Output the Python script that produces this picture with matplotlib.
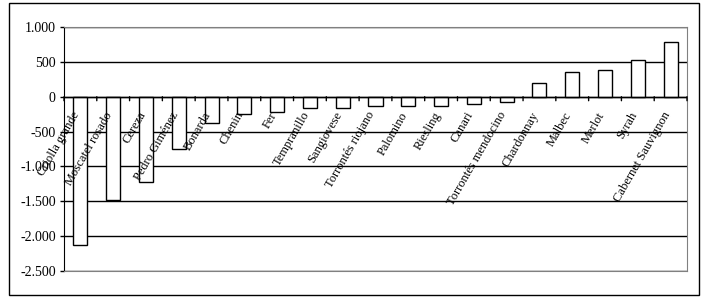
import matplotlib.pyplot as plt
from matplotlib.patches import Rectangle
from matplotlib.ticker import FuncFormatter

plt.rcParams['font.family'] = ['Liberation Serif', 'DejaVu Serif']

varieties = ["Criolla grande", "Moscatel rosado", "Cereza", "Pedro Giménez", "Bonarda",
             "Chenin", "Fer", "Tempranillo", "Sangiovese", "Torrontés riojano",
             "Palomino", "Riesling", "Canari", "Torrontés mendocino", "Chardonnay",
             "Malbec", "Merlot", "Syrah", "Cabernet Sauvignon"]
values = [-2120, -1480, -1230, -750, -380, -255, -215, -160, -165, -135,
          -135, -135, -105, -78, 200, 360, 388, 522, 780]
yticks = [1000, 500, 0, -500, -1000, -1500, -2000, -2500]

W, H = 714, 299
fig = plt.figure(figsize=(W / 100, H / 100), dpi=100)
ax = fig.add_axes([64 / W, 1 - 271 / H, (687 - 64) / W, (271 - 27) / H])

# outer frame round the whole chart
fig.patches.append(Rectangle((9 / W, 1 - 295 / H), 690 / W, 292 / H,
                             transform=fig.transFigure, fill=False,
                             edgecolor="black", linewidth=1))

x = list(range(len(varieties)))
ax.bar(x, values, width=0.43, color="white", edgecolor="black", linewidth=1, zorder=3)

ax.set_xlim(-0.5, len(varieties) - 0.5)
ax.set_ylim(-2500, 1000)
ax.set_yticks(yticks)
ax.yaxis.set_major_formatter(FuncFormatter(
    lambda v, p: f"{int(v):,}".replace(",", ".")))
ax.grid(axis="y", color="black", linewidth=1, zorder=0)
ax.tick_params(axis="y", length=3, width=1, labelsize=10, pad=3)

for s in ["top", "right", "bottom"]:
    ax.spines[s].set_color("#808080")
ax.spines["left"].set_color("black")

# category axis sits at zero: line, short ticks between bars, slanted names
ax.set_xticks([])
ax.axhline(0, color="black", linewidth=1, zorder=4)
for b in range(len(varieties) + 1):
    ax.annotate("", xy=(b - 0.5, 0), xytext=(0, -4), textcoords="offset pixels",
                arrowprops=dict(arrowstyle="-", color="black", lw=1,
                                shrinkA=0, shrinkB=0), zorder=4)
for i, name in enumerate(varieties):
    ax.annotate(name, xy=(i, 0), xytext=(2, -13), textcoords="offset pixels",
                rotation=60, ha="right", va="top", fontsize=9, zorder=5)

fig.savefig("out.png", dpi=100)
